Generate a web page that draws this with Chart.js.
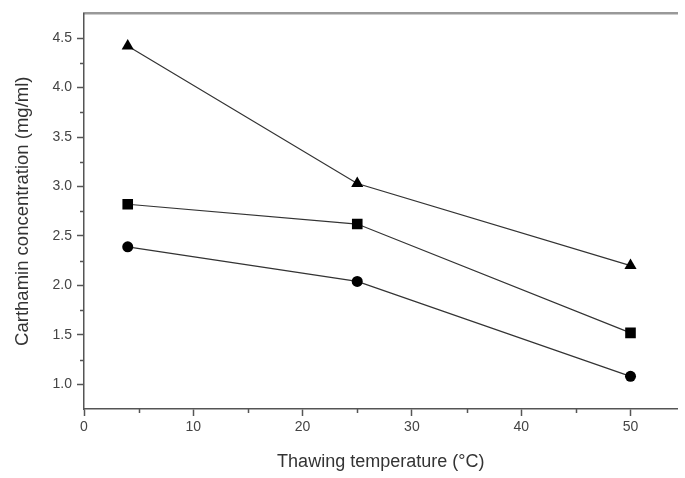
<!DOCTYPE html>
<html>
<head>
<meta charset="utf-8">
<script src="https://cdn.jsdelivr.net/npm/chart.js@4/dist/chart.umd.min.js"></script>
<style>
  html, body { margin: 0; padding: 0; background: #fff; }
</style>
</head>
<body>
<canvas id="chart" width="685" height="478"></canvas>
<script>
// thawing temperature (°C) and carthamin concentration (mg/ml)
const temps = [4, 25, 50];
const triangleSeries = [4.42, 3.03, 2.20];
const squareSeries = [2.82, 2.62, 1.52];
const circleSeries = [2.39, 2.04, 1.08];

const xTicks = [0, 10, 20, 30, 40, 50];
const xMinorTicks = [5, 15, 25, 35, 45];
const yTicks = [1.0, 1.5, 2.0, 2.5, 3.0, 3.5, 4.0, 4.5];
const yMinorTicks = [1.25, 1.75, 2.25, 2.75, 3.25, 3.75, 4.25];

const axisColor = '#555';
const fontFamily = 'Arial, "Liberation Sans", sans-serif';

function toPoints(values) {
    return temps.map((t, i) => ({ x: t, y: values[i] }));
}

function series(values, style, radius) {
    return {
        data: toPoints(values),
        borderColor: '#333',
        borderWidth: 1.2,
        pointStyle: style,
        pointRadius: radius,
        pointBackgroundColor: '#000',
        pointBorderColor: '#000',
        pointBorderWidth: 0,
        tension: 0
    };
}

// short minor ticks, outward like the major ones
const minorTicks = {
    id: 'minorTicks',
    afterDraw(chart) {
        const ctx = chart.ctx;
        const xs = chart.scales.x, ys = chart.scales.y;
        ctx.save();
        ctx.strokeStyle = axisColor;
        ctx.lineWidth = 1.5;
        ctx.beginPath();
        xMinorTicks.forEach(v => {
            const px = Math.round(xs.getPixelForValue(v)) + 0.5;
            ctx.moveTo(px, xs.top);
            ctx.lineTo(px, xs.top + 4);
        });
        yMinorTicks.forEach(v => {
            const py = Math.round(ys.getPixelForValue(v)) + 0.5;
            ctx.moveTo(ys.right, py);
            ctx.lineTo(ys.right - 4, py);
        });
        ctx.stroke();
        ctx.restore();
    }
};

new Chart(document.getElementById('chart').getContext('2d'), {
    type: 'line',
    data: {
        datasets: [
            series(triangleSeries, 'triangle', 7),
            series(squareSeries, 'rect', 7.5),
            series(circleSeries, 'circle', 5.5)
        ]
    },
    options: {
        responsive: false,
        animation: false,
        layout: { padding: 0 },
        plugins: { legend: { display: false }, tooltip: { enabled: false } },
        scales: {
            x: {
                type: 'linear',
                min: 0,
                max: 54.3,
                afterBuildTicks: s => { s.ticks = xTicks.map(v => ({ value: v })); },
                afterFit: s => { s.height = 69; },
                border: { display: true, color: axisColor, width: 1.5 },
                grid: { drawOnChartArea: false, drawTicks: true, tickLength: 7, tickColor: axisColor, tickWidth: 1.5 },
                ticks: {
                    color: '#444',
                    padding: 3,
                    maxRotation: 0,
                    font: { family: fontFamily, size: 14 },
                    callback: v => String(v)
                },
                title: {
                    display: true,
                    text: 'Thawing temperature (°C)',
                    color: '#333',
                    padding: { top: 0, bottom: 5 },
                    font: { family: fontFamily, size: 18 }
                }
            },
            xTop: {
                type: 'linear',
                position: 'top',
                min: 0,
                max: 54.3,
                afterFit: s => { s.height = 10; },
                border: { display: true, color: '#999', width: 2.5 },
                grid: { display: false, drawTicks: false },
                ticks: { display: false }
            },
            y: {
                min: 0.75,
                max: 4.75,
                afterBuildTicks: s => { s.ticks = yTicks.map(v => ({ value: v })); },
                afterFit: s => { s.width = 84; },
                border: { display: true, color: axisColor, width: 1.5 },
                grid: { drawOnChartArea: false, drawTicks: true, tickLength: 7, tickColor: axisColor, tickWidth: 1.5 },
                ticks: {
                    color: '#444',
                    padding: 5,
                    font: { family: fontFamily, size: 14 },
                    callback: v => v.toFixed(1)
                },
                title: {
                    display: true,
                    text: 'Carthamin concentration (mg/ml)',
                    color: '#333',
                    padding: { top: 12, bottom: 0 },
                    font: { family: fontFamily, size: 18.5 }
                }
            }
        }
    },
    plugins: [minorTicks]
});
</script>
</body>
</html>
